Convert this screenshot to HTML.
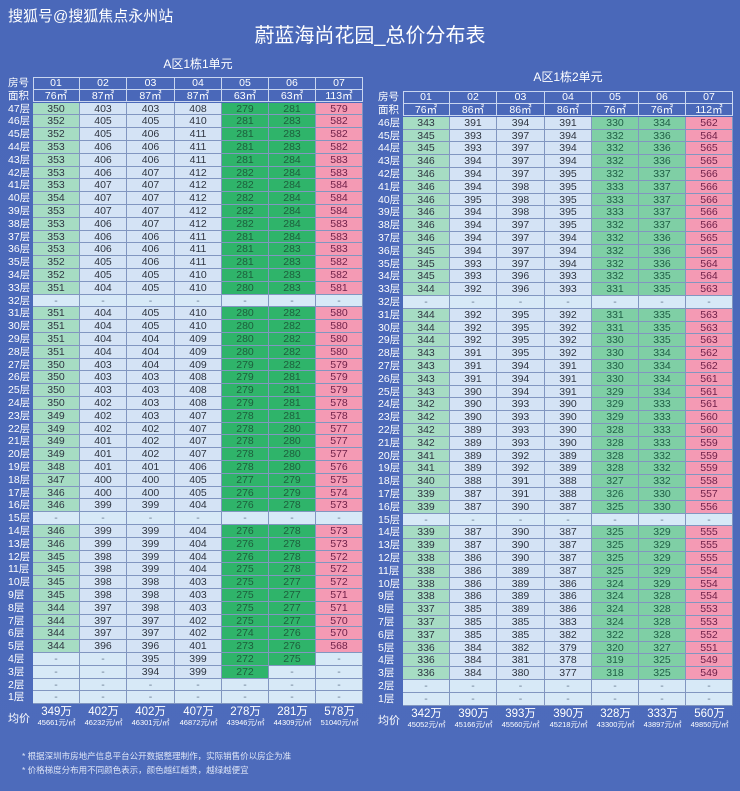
<!DOCTYPE html>
<html><head><meta charset="utf-8"><style>
body{margin:0;width:740px;height:791px;background:linear-gradient(180deg,#4a68b9,#4d6bbb);overflow:hidden;position:relative;font-family:"Liberation Sans","Noto Sans CJK SC",sans-serif;color:#fff}
.a{position:absolute;white-space:nowrap}
.c{position:absolute;box-sizing:border-box;text-align:center;font-size:10.5px;border-right:1px solid #8196c0;border-bottom:1px solid #8196c0;color:#2e3440}
.h{position:absolute;box-sizing:border-box;text-align:center;font-size:10.5px;color:#fff;border:1px solid #c9d6f0;border-left:none;border-top:none}
.l{position:absolute;font-size:10.5px;color:#fff;text-align:left}
</style></head><body>
<div class="a" style="left:8px;top:5px;font-size:15px">搜狐号@搜狐焦点永州站</div>
<div class="a" style="left:0;width:740px;top:19px;text-align:center;font-size:20px">蔚蓝海尚花园_总价分布表</div>
<div class="a" style="left:33px;width:330px;top:55px;text-align:center;font-size:12px">A区1栋1单元</div>
<div class="a" style="left:403px;width:330px;top:68px;text-align:center;font-size:12px">A区1栋2单元</div>
<div id="root"></div>
<div class="a" style="left:22px;top:750px;font-size:8.5px;color:#dfe6f7">* 根据深圳市房地产信息平台公开数据整理制作，实际销售价以房企为准</div>
<div class="a" style="left:22px;top:764px;font-size:8.5px;color:#dfe6f7">* 价格梯度分布用不同颜色表示，颜色越红越贵，越绿越便宜</div>
<script>
const L=`350 403 403 408 279 281 579
352 405 405 410 281 283 582
352 405 406 411 281 283 582
353 406 406 411 281 283 582
353 406 406 411 281 284 583
353 406 407 412 282 284 583
353 407 407 412 282 284 584
354 407 407 412 282 284 584
353 407 407 412 282 284 584
353 406 407 412 282 284 583
353 406 406 411 281 284 583
353 406 406 411 281 283 583
352 405 406 411 281 283 582
352 405 405 410 281 283 582
351 404 405 410 280 283 581
- - - - - - -
351 404 405 410 280 282 580
351 404 405 410 280 282 580
351 404 404 409 280 282 580
351 404 404 409 280 282 580
350 403 404 409 279 282 579
350 403 403 408 279 281 579
350 403 403 408 279 281 579
350 402 403 408 279 281 578
349 402 403 407 278 281 578
349 402 402 407 278 280 577
349 401 402 407 278 280 577
349 401 402 407 278 280 577
348 401 401 406 278 280 576
347 400 400 405 277 279 575
346 400 400 405 276 279 574
346 399 399 404 276 278 573
- - - - - - -
346 399 399 404 276 278 573
346 399 399 404 276 278 573
345 398 399 404 276 278 572
345 398 399 404 275 278 572
345 398 398 403 275 277 572
345 398 398 403 275 277 571
344 397 398 403 275 277 571
344 397 397 402 275 277 570
344 397 397 402 274 276 570
344 396 396 401 273 276 568
- - 395 399 272 275 -
- - 394 399 272 - -
- - - - - - -
- - - - - - -`;
const R=`343 391 394 391 330 334 562
345 393 397 394 332 336 564
345 393 397 394 332 336 565
346 394 397 394 332 336 565
346 394 397 395 332 337 566
346 394 398 395 333 337 566
346 395 398 395 333 337 566
346 394 398 395 333 337 566
346 394 397 395 332 337 566
346 394 397 394 332 336 565
345 394 397 394 332 336 565
345 393 397 394 332 336 564
345 393 396 393 332 335 564
344 392 396 393 331 335 563
- - - - - - -
344 392 395 392 331 335 563
344 392 395 392 331 335 563
344 392 395 392 330 335 563
343 391 395 392 330 334 562
343 391 394 391 330 334 562
343 391 394 391 330 334 561
343 390 394 391 329 334 561
342 390 393 390 329 333 561
342 390 393 390 329 333 560
342 389 393 390 328 333 560
342 389 393 390 328 333 559
341 389 392 389 328 332 559
341 389 392 389 328 332 559
340 388 391 388 327 332 558
339 387 391 388 326 330 557
339 387 390 387 325 330 556
- - - - - - -
339 387 390 387 325 329 555
339 387 390 387 325 329 555
338 386 390 387 325 329 555
338 386 389 387 325 329 554
338 386 389 386 324 329 554
338 386 389 386 324 328 554
337 385 389 386 324 328 553
337 385 385 383 324 328 553
337 385 385 382 322 328 552
336 384 382 379 320 327 551
336 384 381 378 319 325 549
336 384 380 377 318 325 549
- - - - - - -
- - - - - - -`;
let h='';
function tbl(data,x0,hy,top,areas,avg,green5){
 const rows=data.split('\n').map(r=>r.split(' '));
 const cw=47.2,rh=12.8,n=rows.length;
 const X=j=>Math.round(x0+j*cw), Y=i=>Math.round(top+i*rh);
 h+=`<div class="l" style="left:${x0-25}px;top:${hy}px;line-height:13px">房号</div><div class="l" style="left:${x0-25}px;top:${hy+13}px;line-height:12px">面积</div>`;
 h+=`<div class="a" style="left:${x0}px;top:${hy}px;width:${Math.round(cw*7)}px;height:25px;border:1px solid #c9d6f0;box-sizing:border-box"></div>`;
 for(let j=0;j<7;j++){
  const w=X(j+1)-X(j);
  h+=`<div class="h" style="left:${X(j)}px;top:${hy}px;width:${w}px;height:13px;line-height:13px">0${j+1}</div>`;
  h+=`<div class="h" style="left:${X(j)}px;top:${hy+13}px;width:${w}px;height:12px;line-height:12px">${areas[j]}㎡</div>`;
 }
 rows.forEach((r,i)=>{
  const y=Y(i), hh=Y(i+1)-y, fl=n-i;
  h+=`<div class="l" style="left:${x0-25}px;top:${y}px;line-height:${hh}px">${fl}层</div>`;
  r.forEach((v,j)=>{
   let bg='#d4e3f5',c='#2e3440';
   if(v=='-'){bg='#d7e9f7';c='#6a7a90'}
   else if(j==0){bg='#a6dcc3'}
   else if(j==4||j==5){bg=green5?'#2fb46a':'#7fcfa5';c=green5?'#1d5e3c':'#1f5e45'}
   else if(j==6){bg='#f49ab4';c='#6e1f48'}
   h+=`<div class="c" style="left:${X(j)}px;top:${y}px;width:${X(j+1)-X(j)}px;height:${hh}px;line-height:${hh}px;background:${bg};color:${c}">${v}</div>`;
  });
 });
 const ay=Y(n);
 h+=`<div class="l" style="left:${x0-25}px;top:${ay+6}px;font-size:11px">均价</div>`;
 avg.forEach((a,j)=>{
  h+=`<div class="a" style="left:${X(j)}px;width:${cw}px;top:${ay+2}px;text-align:center;font-size:11.5px;line-height:12px">${a[0]}万</div>`;
  h+=`<div class="a" style="left:${X(j)-3}px;width:${cw+6}px;top:${ay+14}px;text-align:center;font-size:7.5px;line-height:9px">${a[1]}元/㎡</div>`;
 });
}
tbl(L,33,77,102.5,[76,87,87,87,63,63,113],[[349,45661],[402,46232],[402,46301],[407,46872],[278,43946],[281,44309],[578,51040]],true);
tbl(R,403,91,116.8,[76,86,86,86,76,76,112],[[342,45052],[390,45166],[393,45560],[390,45218],[328,43300],[333,43897],[560,49850]],false);
document.getElementById('root').innerHTML=h;
</script>
</body></html>
